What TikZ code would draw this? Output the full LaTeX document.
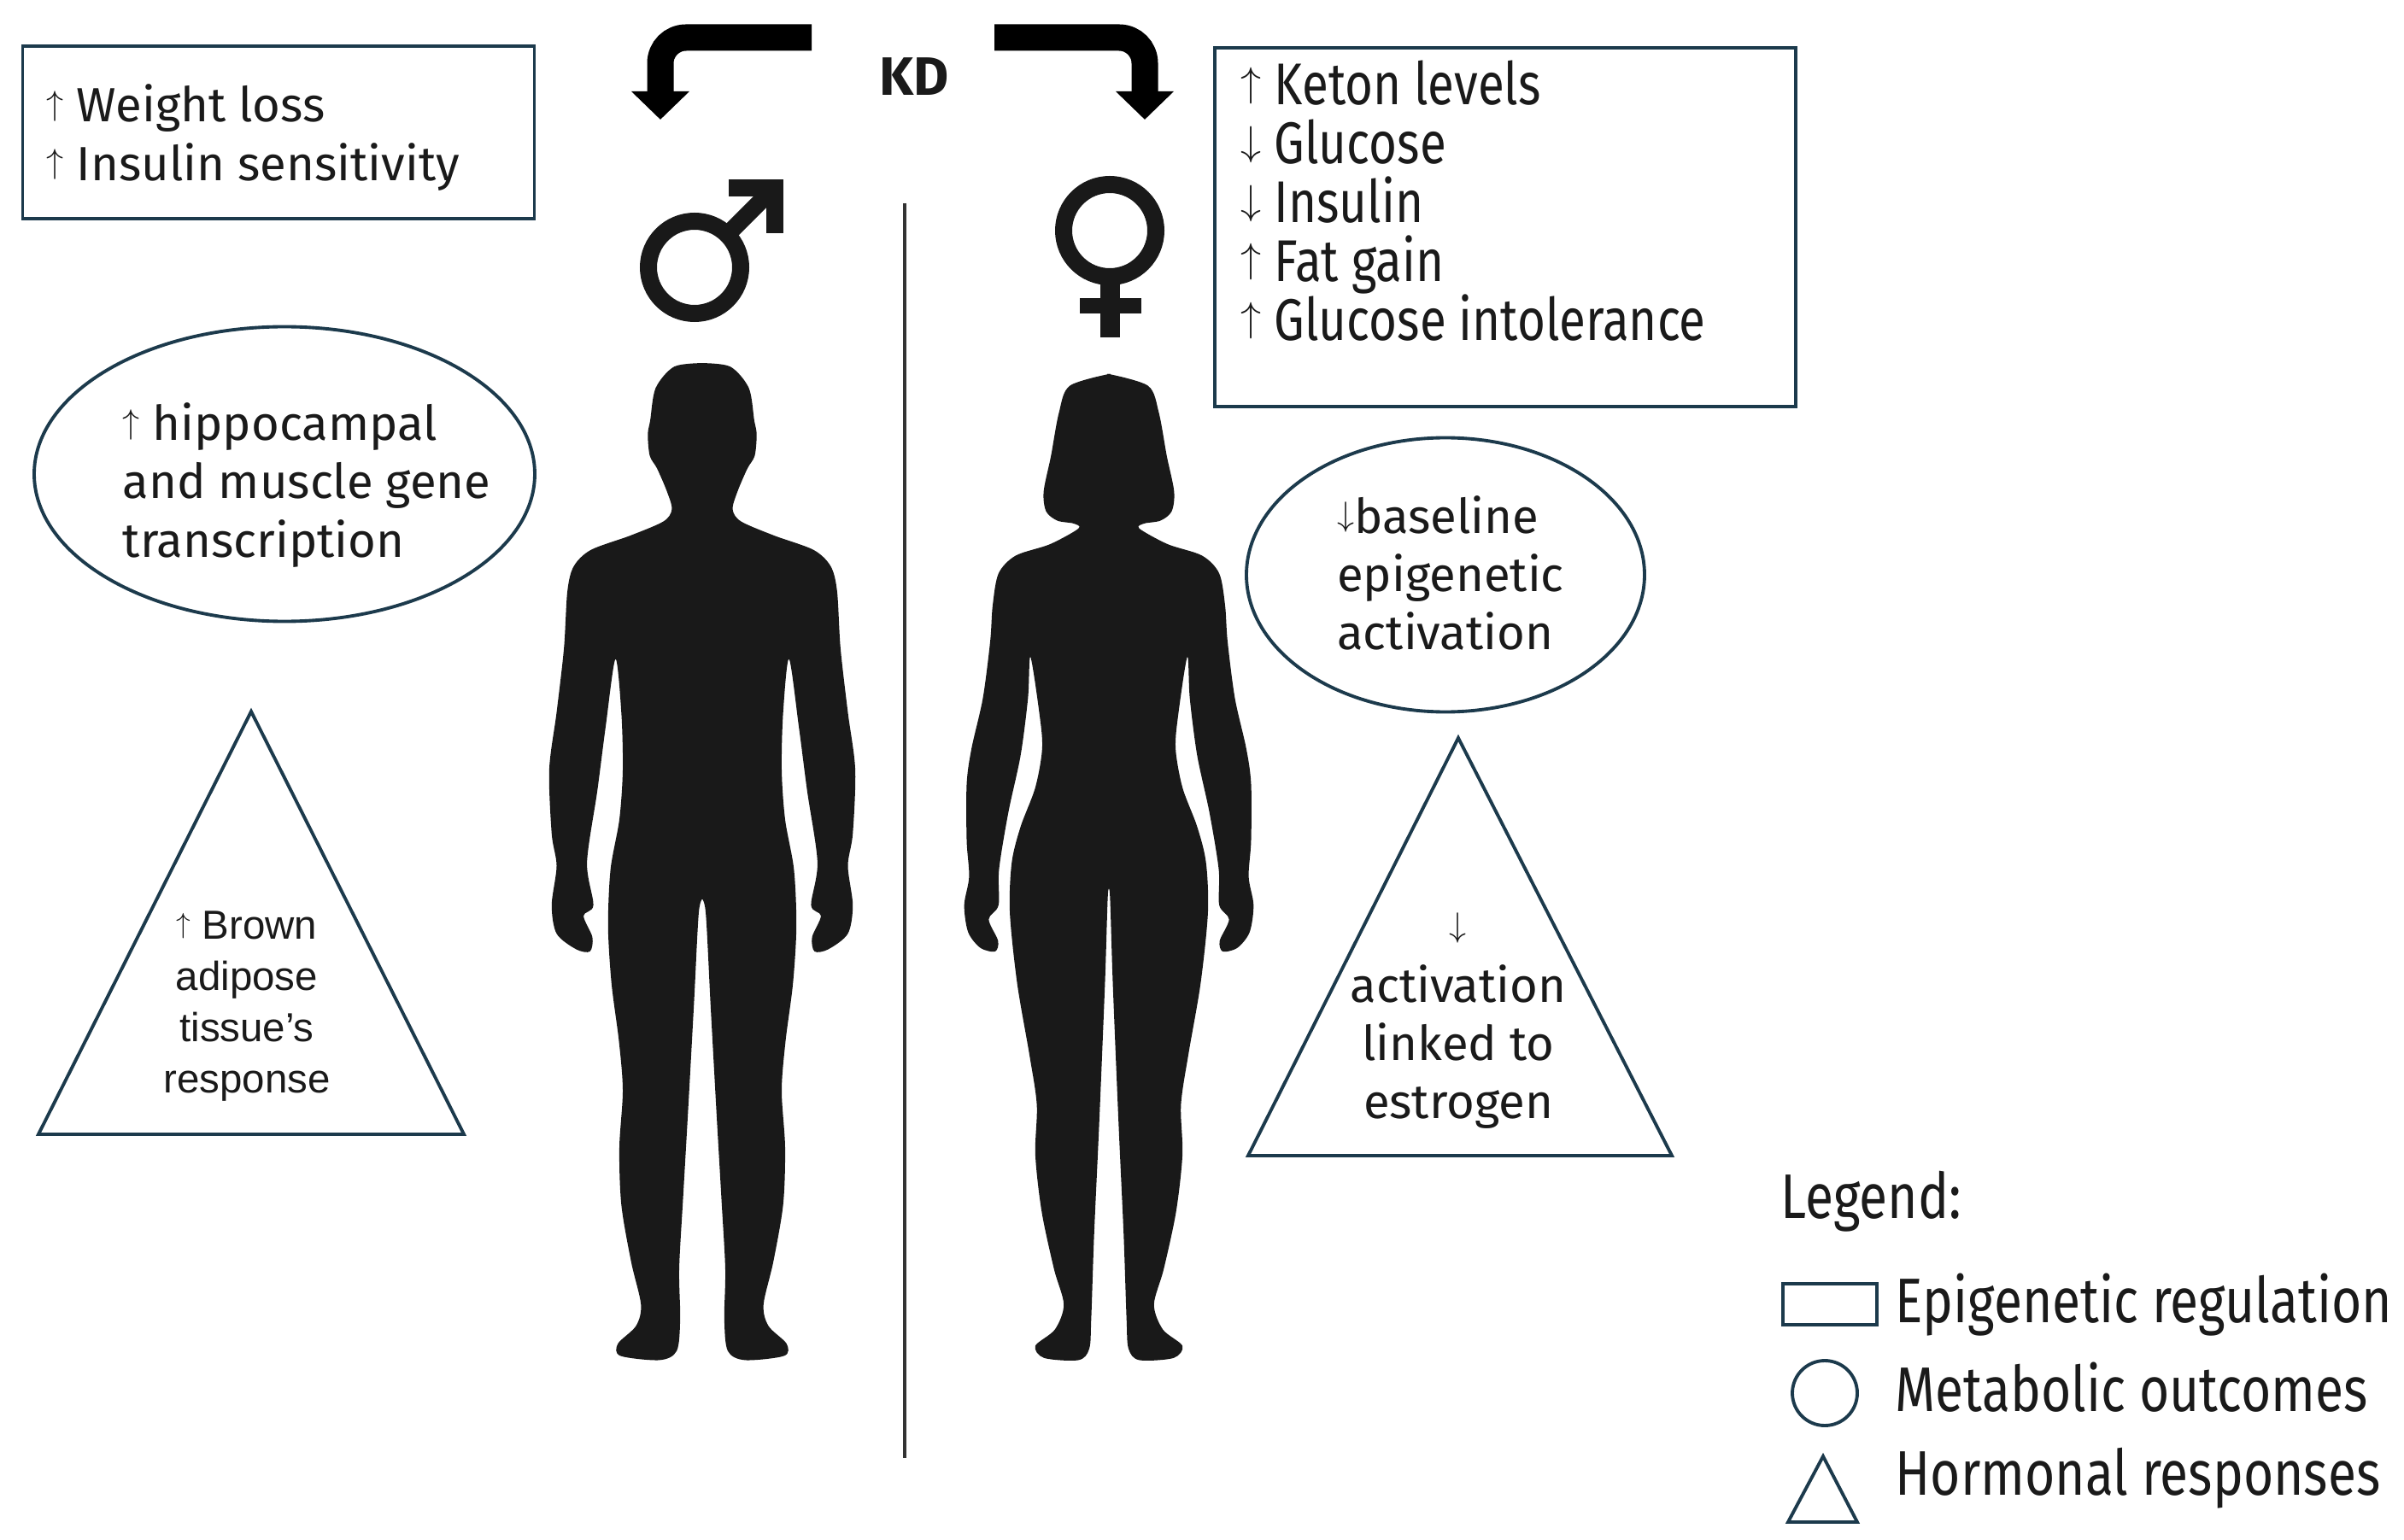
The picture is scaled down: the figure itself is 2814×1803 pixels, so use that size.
\documentclass[tikz,border=0pt]{standalone}
\usepackage{fontspec}
\setmainfont{Fira Sans}
\newfontfamily\narrowfont[FakeStretch=0.82]{Fira Sans}
\newfontfamily\helvfont{Liberation Sans}
\usetikzlibrary{arrows.meta,shapes.geometric,positioning}
\definecolor{edgeblue}{RGB}{28,58,76}
\definecolor{ink}{RGB}{26,26,26}
\newcommand{\upar}{\raisebox{0.15em}{\scalebox{0.66}{$\uparrow$}}}
\newcommand{\dnar}{\raisebox{0.15em}{\scalebox{0.66}{$\downarrow$}}}
\tikzset{
  epibox/.style={draw=edgeblue, line width=1.1pt, rectangle, inner sep=0pt},
  metaell/.style={draw=edgeblue, line width=1.1pt, ellipse, inner sep=0pt},
  hormtri/.style={draw=edgeblue, line width=1.1pt, line join=miter},
  txt/.style={text=ink, inner sep=0pt, font=\fontsize{16}{19.4}\selectfont},
  narrowtxt/.style={text=ink, inner sep=0pt, font=\narrowfont\fontsize{19.6}{19.6}\selectfont},
  legtxt/.style={text=ink, inner sep=0pt, anchor=west, font=\narrowfont\fontsize{21}{24}\selectfont},
  kdarrow/.style={draw=black, line width=3.1mm, rounded corners=3mm, -{Triangle[length=3.3mm,width=6.6mm]}},
  body/.style={fill=black!90},
  sexsym/.style={draw=black!90, line width=2mm}
}

\begin{document}
\begin{tikzpicture}[x=0.1mm, y=-0.1mm]
  \useasboundingbox (0,0) rectangle (2814,1803);

  \node[txt, font=\bfseries\fontsize{18}{20}\selectfont] (kd) at (1070,90) {KD};
  \coordinate (kdl) at (950,44);
  \coordinate (kdr) at (1164,44);
  \coordinate (tom) at (773,140);
  \coordinate (tof) at (1340,140);
  \draw[kdarrow] (kdl) -| (tom);
  \draw[kdarrow] (kdr) -| (tof);

  \coordinate (divtop) at (1059,238);
  \coordinate (divbot) at (1059,1707);
  \draw[line width=0.35mm, black!80] (divtop) -- (divbot);

  \draw[sexsym] (813,313) circle[radius=54];
  \draw[sexsym] (851,275) -- (905,221);
  \draw[sexsym, line join=miter] (853,220) -- (907,220) -- (907,273);
  \draw[sexsym] (1299,270) circle[radius=54];
  \draw[sexsym, line width=2.3mm] (1299,324) -- (1299,395);
  \draw[sexsym, line width=1.8mm] (1264,358) -- (1336,358);

  \foreach \s in {1,-1}{
    \fill[body, shift={(822,400)}, xscale=0.574*\s, yscale=0.835] plot[smooth, tension=.5] coordinates {
      (-3,30) (57,35) (95,65) (106,110) (111,130) (107,160) (92,178) (72,210) (62,235)
      (79,252) (147,272) (227,292) (262,315) (275,350) (282,430) (297,520) (312,600)
      (307,690) (297,735) (307,790) (297,830) (257,852) (229,855) (224,835) (242,805)
      (222,790) (235,730) (214,630) (197,540) (177,445) (165,520) (162,600) (169,670)
      (187,740) (192,820) (185,900) (170,980) (162,1050) (169,1130) (165,1210) (145,1290)
      (125,1350) (135,1380) (172,1405) (167,1422) (87,1428) (52,1415) (45,1370) (47,1300)
      (39,1200) (29,1080) (17,930) (7,800) (-3,780)} -- cycle;
    \fill[body, shift={(1298,400)}, xscale=0.574*\s, yscale=0.835] plot[smooth, tension=.5] coordinates {
      (-3,45) (80,62) (102,100) (118,160) (133,210) (128,238) (105,251) (72,255) (62,262)
      (120,284) (190,300) (225,325) (237,370) (242,420) (257,500) (280,570) (290,620)
      (290,700) (285,750) (295,790) (287,828) (262,850) (232,855) (226,840) (245,810)
      (225,790) (224,740) (205,660) (180,580) (165,500) (160,442) (142,520) (136,570)
      (150,625) (180,680) (198,730) (202,800) (187,900) (162,1000) (147,1070) (150,1140)
      (137,1220) (112,1300) (92,1350) (110,1385) (150,1408) (132,1425) (62,1428) (40,1412)
      (36,1370) (30,1250) (20,1100) (8,900) (2,775) (-3,772)} -- cycle;
  }

  \node[epibox, minimum width=59.9mm, minimum height=20.2mm] (wtbox) at (326,155) {};
  \node[txt, anchor=west, align=left] (wttxt) at (54,161) {\upar\ Weight loss\\ \upar\ Insulin sensitivity};

  \node[epibox, minimum width=68mm, minimum height=42mm] (ketbox) at (1762,266) {};
  \node[narrowtxt, anchor=west, align=left] (kettxt) at (1452,235) {\upar\ Keton levels\\ \dnar\ Glucose\\ \dnar\ Insulin\\ \upar\ Fat gain\\ \upar\ Glucose intolerance};

  \node[metaell, minimum width=58.6mm, minimum height=34.5mm] (hipell) at (333,555) {};
  \node[txt, align=left] (hiptxt) at ([shift={(26,13)}]hipell.center) {\upar\ hippocampal\\and muscle gene\\transcription};

  \node[metaell, minimum width=46.6mm, minimum height=32.1mm] (epiell) at (1692,673) {};
  \node[txt, align=left] (epitxt) at ([shift={(6,-2)}]epiell.center) {\dnar baseline\\epigenetic\\activation};

  \coordinate (bata) at (294,833);
  \coordinate (batl) at (45,1328);
  \coordinate (batr) at (543,1328);
  \draw[hormtri] (bata) -- (batr) -- (batl) -- cycle;
  \node[txt, font=\helvfont\fontsize{13.5}{17}\selectfont, align=center] (battxt) at (289,1178) {\upar\ Brown\\adipose\\tissue’s\\response};

  \coordinate (esta) at (1707,864);
  \coordinate (estl) at (1461,1353);
  \coordinate (estr) at (1957,1353);
  \draw[hormtri] (esta) -- (estr) -- (estl) -- cycle;
  \node[txt, align=center] (esttxt) at (1707,1195) {\dnar\\activation\\linked to\\estrogen};

  \node[legtxt] (leg) at (2084,1407) {Legend:};
  \node[epibox, minimum width=11mm, minimum height=4.8mm] (legbox) at (2142,1527) {};
  \node[draw=edgeblue, line width=1.1pt, circle, minimum size=7.6mm, inner sep=0pt] (legell) at (2136,1631) {};
  \coordinate (legta) at (2134,1705);
  \coordinate (legtl) at (2093,1782);
  \coordinate (legtr) at (2174,1782);
  \draw[hormtri] (legta) -- (legtr) -- (legtl) -- cycle;
  \node[legtxt] (legepi) at (2218,1528) {Epigenetic regulation};
  \node[legtxt] (legmet) at (2218,1624) {Metabolic outcomes};
  \node[legtxt] (leghor) at (2218,1731) {Hormonal responses};
\end{tikzpicture}
\end{document}
